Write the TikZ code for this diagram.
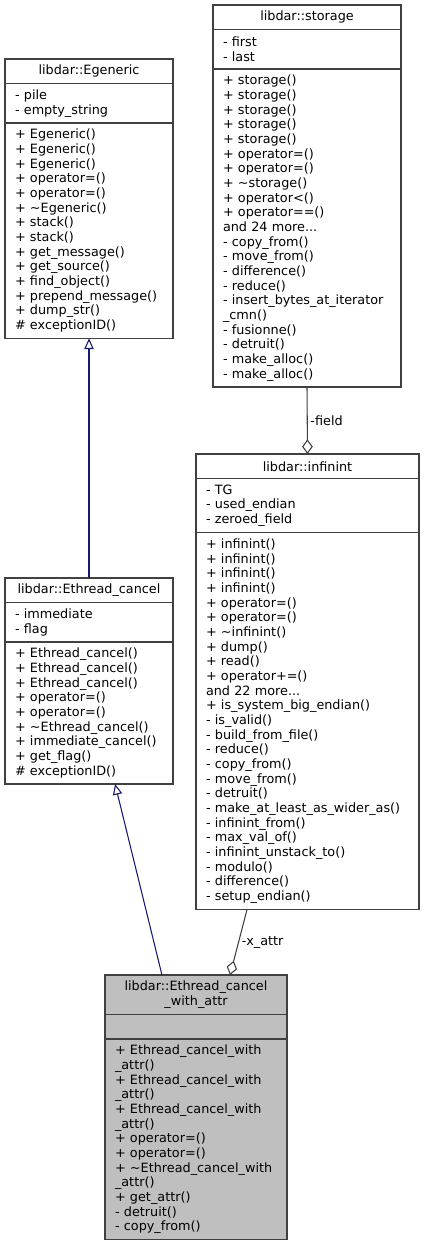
\documentclass[tikz,border=0pt]{standalone}
\usepackage{fontspec}
\setmainfont{DejaVu Sans}
\usepackage{tikz}
\usetikzlibrary{arrows.meta,positioning,calc}
\definecolor{edgeblue}{RGB}{25,25,112}
\definecolor{edgegray}{RGB}{64,64,64}
\definecolor{boxgray}{RGB}{191,191,191}

\begin{document}
\begin{tikzpicture}[x=0.75pt, y=-0.75pt,
        font=\fontsize{9.6}{11}\selectfont,
        cls/.style={draw=black!75, line width=0.9pt, fill=white, outer sep=0pt, inner xsep=7.5pt, inner ysep=0pt, align=left, text width=#1},
        rows/.style={minimum height=#1*11pt+7.5pt},
        title/.style={align=center},
        inherit/.style={draw=edgeblue, line width=0.8pt, -{Triangle[length=8pt, width=7pt, fill=white]}},
        member/.style={draw=edgegray, line width=0.8pt, -{Diamond[length=11pt, width=8pt, fill=white]}},
        lbl/.style={inner sep=2pt, text=black}]

    \useasboundingbox (0,0) rectangle (424,1248);

    % libdar::Egeneric
    \node[cls=111pt, rows=1, title, anchor=north west] (egen) at (5,59) {libdar::Egeneric};
    \node[cls=111pt, rows=2, below=0pt of egen] (egen-a) {- pile\\- empty\_string};
    \node[cls=111pt, rows=14, below=0pt of egen-a] (egen-m) {+ Egeneric()\\+ Egeneric()\\+ Egeneric()\\+ operator=()\\+ operator=()\\+ \textasciitilde Egeneric()\\+ stack()\\+ stack()\\+ get\_message()\\+ get\_source()\\+ find\_object()\\+ prepend\_message()\\+ dump\_str()\\\# exceptionID()};

    % libdar::storage
    \node[cls=126pt, rows=1, title, anchor=north west] (stor) at (213,5) {libdar::storage};
    \node[cls=126pt, rows=2, below=0pt of stor] (stor-a) {- first\\- last};
    \node[cls=126pt, rows=21, below=0pt of stor-a] (stor-m) {+ storage()\\+ storage()\\+ storage()\\+ storage()\\+ storage()\\+ operator=()\\+ operator=()\\+ \textasciitilde storage()\\+ operator<()\\+ operator==()\\and 24 more...\\- copy\_from()\\- move\_from()\\- difference()\\- reduce()\\- insert\_bytes\_at\_iterator\\\_cmn()\\- fusionne()\\- detruit()\\- make\_alloc()\\- make\_alloc()};

    % libdar::infinint
    \node[cls=152.25pt, rows=1, title, anchor=north west] (inf) at (196,454) {libdar::infinint};
    \node[cls=152.25pt, rows=3, below=0pt of inf] (inf-a) {- TG\\- used\_endian\\- zeroed\_field};
    \node[cls=152.25pt, rows=25, below=0pt of inf-a] (inf-m) {+ infinint()\\+ infinint()\\+ infinint()\\+ infinint()\\+ operator=()\\+ operator=()\\+ \textasciitilde infinint()\\+ dump()\\+ read()\\+ operator+=()\\and 22 more...\\+ is\_system\_big\_endian()\\- is\_valid()\\- build\_from\_file()\\- reduce()\\- copy\_from()\\- move\_from()\\- detruit()\\- make\_at\_least\_as\_wider\_as()\\- infinint\_from()\\- max\_val\_of()\\- infinint\_unstack\_to()\\- modulo()\\- difference()\\- setup\_endian()};

    % libdar::Ethread_cancel
    \node[cls=111pt, rows=1, title, anchor=north west] (ecancel) at (5,578) {libdar::Ethread\_cancel};
    \node[cls=111pt, rows=2, below=0pt of ecancel] (ecancel-a) {- immediate\\- flag};
    \node[cls=111pt, rows=9, below=0pt of ecancel-a] (ecancel-m) {+ Ethread\_cancel()\\+ Ethread\_cancel()\\+ Ethread\_cancel()\\+ operator=()\\+ operator=()\\+ \textasciitilde Ethread\_cancel()\\+ immediate\_cancel()\\+ get\_flag()\\\# exceptionID()};

    % libdar::Ethread_cancel_with_attr
    \node[cls=121.5pt, rows=2, title, fill=boxgray, anchor=north west] (attr) at (105,975) {libdar::Ethread\_cancel\\\_with\_attr};
    \node[cls=121.5pt, rows=1, fill=boxgray, below=0pt of attr] (attr-a) {};
    \node[cls=121.5pt, rows=13, fill=boxgray, below=0pt of attr-a] (attr-m) {+ Ethread\_cancel\_with\\\_attr()\\+ Ethread\_cancel\_with\\\_attr()\\+ Ethread\_cancel\_with\\\_attr()\\+ operator=()\\+ operator=()\\+ \textasciitilde Ethread\_cancel\_with\\\_attr()\\+ get\_attr()\\- detruit()\\- copy\_from()};

    % Inheritance
    \draw[inherit] (ecancel.north) -- (egen-m.south);
    \draw[inherit] ($(attr.north west)!0.313!(attr.north east)$) -- ($(ecancel-m.south west)!0.655!(ecancel-m.south east)$);

    % Members
    \draw[member] (stor-m.south) -- node[right, lbl] {-field} (inf.north);
    \draw[member] ($(inf-m.south west)!0.229!(inf-m.south east)$) -- node[right, lbl] {-x\_attr} ($(attr.north west)!0.687!(attr.north east)$);
\end{tikzpicture}
\end{document}
